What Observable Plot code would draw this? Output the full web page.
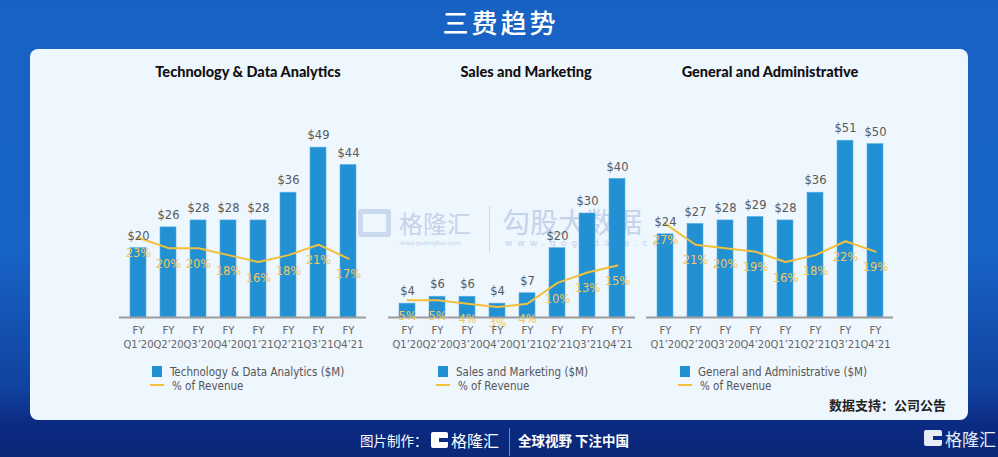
<!DOCTYPE html>
<html>
<head>
<meta charset="utf-8">
<script src="https://cdn.jsdelivr.net/npm/d3@7"></script>
<script src="https://cdn.jsdelivr.net/npm/@observablehq/plot@0.6"></script>
<style>
  html, body { margin:0; padding:0; }
  body { width:998px; height:457px; overflow:hidden; position:relative;
    background: linear-gradient(180deg, #1862c4 0%, #1763c6 55%, #11429f 85%, #0b2a82 93%, #0a2777 100%);
    font-family: "DejaVu Sans", sans-serif; }
  .abs { position:absolute; }
  #card { left:30px; top:49px; width:938px; height:371px; background:#eef6fe; border-radius:8px; }
  #header { left:0; width:998px; top:3px; text-align:center; color:#fff; font-family:"Noto Sans CJK SC"; font-size:26px; font-weight:500; letter-spacing:3px; text-indent:3px; }
  .ptitle { top:63px; width:300px; text-align:center; font-family:Lato, sans-serif; font-weight:900; font-size:14.5px; color:#111; }
  .leg { font-family:"DejaVu Sans Condensed","DejaVu Sans"; font-size:11.5px; color:#555; line-height:14px; }
  .sw { display:inline-block; width:10px; height:11px; background:#2191d3; vertical-align:-1px; margin-right:8px; margin-left:2px;}
  .ln { display:inline-block; width:14px; height:2px; background:#f2c03d; vertical-align:4px; margin-right:8px;}
  .wm { color:#c3d3ea; font-family:"Noto Sans CJK SC"; }
  .ft { color:#fff; font-family:"Noto Sans CJK SC"; font-size:13.5px; }
</style>
</head>
<body>
<div id="card" class="abs"></div>
<div id="header" class="abs">三费趋势</div>

<!-- watermark -->
<div class="abs wm" style="left:358px;top:209px;width:33px;height:28px;border:5px solid #c6d6ec;box-sizing:border-box;border-radius:3px;opacity:0.9"></div>
<div class="abs wm" style="left:399px;top:205px;font-size:24px;">格隆汇</div>
<div class="abs wm" style="left:400px;top:239px;font-size:6px;font-family:'DejaVu Sans'">www.gelonghui.com</div>
<div class="abs" style="left:489px;top:206px;width:1px;height:46px;background:#c9d7ea"></div>
<div class="abs wm" style="left:502px;top:201px;font-size:28px;letter-spacing:0px;">勾股大数据</div>
<div class="abs wm" style="left:505px;top:238px;font-size:9px;letter-spacing:5.2px;font-family:'DejaVu Sans'">www.gogudata.com</div>

<div id="p1" class="abs" style="left:100px;top:100px"></div>
<div id="p2" class="abs" style="left:369px;top:100px"></div>
<div id="p3" class="abs" style="left:627px;top:100px"></div>

<div class="abs ptitle" style="left:98px">Technology &amp; Data Analytics</div>
<div class="abs ptitle" style="left:376px">Sales and Marketing</div>
<div class="abs ptitle" style="left:620px">General and Administrative</div>

<div class="abs leg" style="left:150px;top:365px"><span class="sw"></span>Technology &amp; Data Analytics ($M)<br><span class="ln"></span>% of Revenue</div>
<div class="abs leg" style="left:436px;top:365px"><span class="sw"></span>Sales and Marketing ($M)<br><span class="ln"></span>% of Revenue</div>
<div class="abs leg" style="left:678px;top:365px"><span class="sw"></span>General and Administrative ($M)<br><span class="ln"></span>% of Revenue</div>

<div class="abs" style="right:52px;top:395px;font-family:'Noto Sans CJK SC';font-size:13px;font-weight:bold;color:#222">数据支持：公司公告</div>

<!-- footer -->
<div class="abs ft" style="left:360px;top:430px;">图片制作：</div>
<div class="abs" style="left:431px;top:432px;width:17px;height:16px;background:#fff;border-radius:2px"></div>
<div class="abs" style="left:439px;top:438px;width:9px;height:4px;background:#0c2b84"></div>
<div class="abs ft" style="left:451px;top:428px;font-size:16px;">格隆汇</div>
<div class="abs" style="left:509px;top:428px;width:1px;height:28px;background:#6f86c4"></div>
<div class="abs ft" style="left:518px;top:430px;font-weight:bold;">全球视野 下注中国</div>
<div class="abs" style="left:924px;top:430px;width:18px;height:16px;background:#e8ecf5;border-radius:2px"></div>
<div class="abs" style="left:933px;top:436px;width:9px;height:4px;background:#0c2b84"></div>
<div class="abs ft" style="left:945px;top:426px;font-size:17px;color:#e8ecf5">格隆汇</div>

<script>
const quarters = ["Q1’20","Q2’20","Q3’20","Q4’20","Q1’21","Q2’21","Q3’21","Q4’21"];
const techValues  = [20, 26, 28, 28, 28, 36, 49, 44];
const techPct     = [23, 20, 20, 18, 16, 18, 21, 17];
const salesValues = [4, 6, 6, 4, 7, 20, 30, 40];
const salesPct    = [5, 5, 4, 3, 4, 10, 13, 15];
const gaValues    = [24, 27, 28, 29, 28, 36, 51, 50];
const gaPct       = [27, 21, 20, 19, 16, 18, 22, 19];

function panel(values, pct) {
  const data = quarters.map((q, i) => ({q, v: values[i], p: pct[i]}));
  return Plot.plot({
    width: 285, height: 249,
    marginLeft: 19, marginRight: 19, marginTop: 9, marginBottom: 32,
    style: {background: "transparent", fontFamily: "DejaVu Sans", overflow: "visible"},
    x: {domain: quarters, paddingInner: 0.48, paddingOuter: 0.24, label: null},
    y: {domain: [0, 60], axis: null},
    marks: [
      Plot.barY(data, {x: "q", y: "v", fill: "#2191d3", stroke: "#5fb0e6", strokeWidth: 0.6}),
      Plot.ruleY([0], {stroke: "#9c9c9c", strokeWidth: 2}),
      Plot.lineY(data, {x: "q", y: "p", stroke: "#f2c03d", strokeWidth: 2}),
      Plot.text(data, {x: "q", y: "v", text: d => "$" + d.v, dy: -12, fill: "#595959", fontSize: 11.5}),
      Plot.text(data, {x: "q", y: "p", text: d => d.p + "%", dy: 16, fill: "#f1c860", fontSize: 11.5}),
      Plot.axisX({tickSize: 0, tickPadding: 7, fontSize: 10, lineHeight: 1.4, color: "#666",
                  tickFormat: d => "FY\n" + d, label: null})
    ]
  });
}
document.getElementById("p1").appendChild(panel(techValues, techPct));
document.getElementById("p2").appendChild(panel(salesValues, salesPct));
document.getElementById("p3").appendChild(panel(gaValues, gaPct));
</script>
</body>
</html>
